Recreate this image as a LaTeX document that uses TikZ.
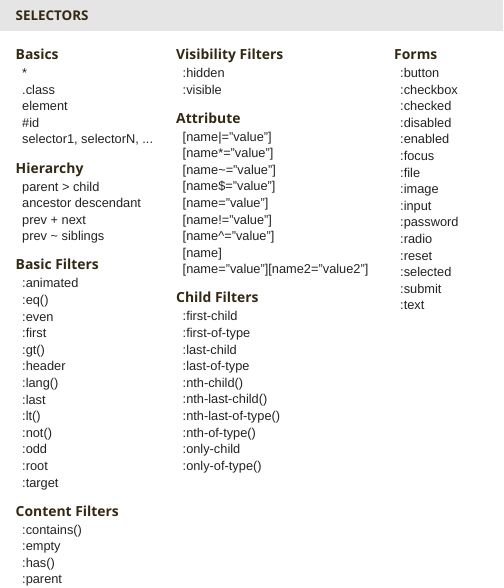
\documentclass[tikz,border=0pt]{standalone}
\usepackage{fontspec}
\setmainfont{Liberation Sans}
\newfontfamily\headfont{Open Sans}
\usetikzlibrary{positioning}

\definecolor{bandgray}{RGB}{229,229,229}
\definecolor{headcol}{RGB}{52,40,20}
\definecolor{entrycol}{RGB}{34,34,34}

\newcommand{\threedots}{...}

\tikzset{
  title/.style={anchor=base west, inner sep=0pt, text=headcol,
    font=\headfont\bfseries\fontsize{13.4}{15}\selectfont},
  heading/.style={anchor=base west, inner sep=0pt, text=headcol,
    font=\headfont\bfseries\fontsize{13.9}{16}\selectfont},
  entry/.style={anchor=base west, inner sep=0pt, text=entrycol,
    font=\fontsize{12.8}{15}\selectfont},
}

\begin{document}
\begin{tikzpicture}[x=1pt,y=-1pt]
    \useasboundingbox (0,0) rectangle (503,588);

    % Title band
    \fill[bandgray] (0,0) rectangle (503,31);
    \node[title] (selectors) at (15.5,20.5) {SELECTORS};

    % First column
    \node[heading] (basics) at (15.5,59.5) {Basics};
    \foreach \txt [count=\i] in {*, .class, element, \#id, {selector1, selectorN, \threedots}}
      \node[entry] (basics-\i) at (22,{77.5+16.6*(\i-1)}) {\txt};

    \node[heading] (hierarchy) at (15.5,173.1) {Hierarchy};
    \foreach \txt [count=\i] in {{parent > child}, {ancestor descendant},
        {prev + next}, {prev \textasciitilde{} siblings}}
      \node[entry] (hierarchy-\i) at (22,{191.1+16.6*(\i-1)}) {\txt};

    \node[heading] (basicfilters) at (15.5,269.8) {Basic Filters};
    \foreach \txt [count=\i] in {:animated, :eq(), :even, :first, :gt(), :header,
        :lang(), :last, :lt(), :not(), :odd, :root, :target}
      \node[entry] (basicfilters-\i) at (22,{287.8+16.6*(\i-1)}) {\txt};

    \node[heading] (contentfilters) at (15.5,516.1) {Content Filters};
    \foreach \txt [count=\i] in {:contains(), :empty, :has(), :parent}
      \node[entry] (contentfilters-\i) at (22,{534.1+16.6*(\i-1)}) {\txt};

    % Second column
    \node[heading] (visibility) at (176,59.5) {Visibility Filters};
    \foreach \txt [count=\i] in {:hidden, :visible}
      \node[entry] (visibility-\i) at (182.5,{77.5+16.6*(\i-1)}) {\txt};

    \node[heading] (attribute) at (176,123.1) {Attribute};
    \foreach \txt [count=\i] in {{[name|="value"]}, {[name*="value"]},
        {[name\textasciitilde="value"]}, {[name\$="value"]}, {[name="value"]},
        {[name!="value"]}, {[name\textasciicircum="value"]}, {[name]},
        {[name="value"][name2="value2"]}}
      \node[entry] (attribute-\i) at (182.5,{141.1+16.6*(\i-1)}) {\txt};

    \node[heading] (childfilters) at (176,302.9) {Child Filters};
    \foreach \txt [count=\i] in {:first-child, :first-of-type, :last-child,
        :last-of-type, :nth-child(), :nth-last-child(), :nth-last-of-type(),
        :nth-of-type(), :only-child, :only-of-type()}
      \node[entry] (childfilters-\i) at (182.5,{320.9+16.6*(\i-1)}) {\txt};

    % Third column
    \node[heading] (forms) at (394,59.5) {Forms};
    \foreach \txt [count=\i] in {:button, :checkbox, :checked, :disabled, :enabled,
        :focus, :file, :image, :input, :password, :radio, :reset, :selected,
        :submit, :text}
      \node[entry] (forms-\i) at (400,{77.5+16.6*(\i-1)}) {\txt};
\end{tikzpicture}
\end{document}
